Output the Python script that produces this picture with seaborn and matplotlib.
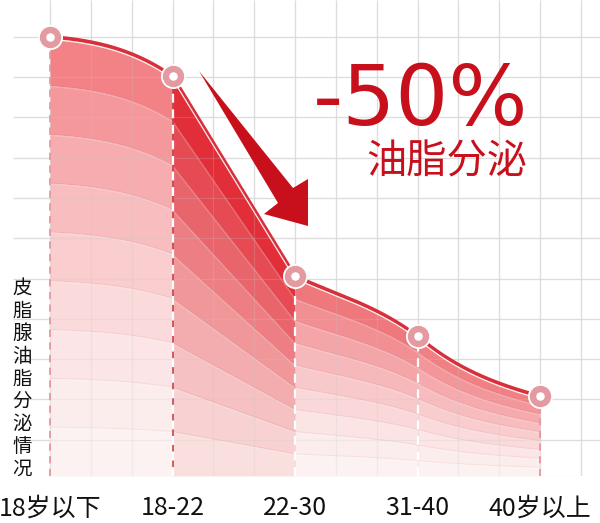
import numpy as np
import matplotlib
matplotlib.use("Agg")
import matplotlib.pyplot as plt
import seaborn as sns
from matplotlib.patches import Polygon
from matplotlib.colors import to_rgb

# ---------------- data ----------------
categories = ["18岁以下", "18-22", "22-30", "31-40", "40岁以上"]
oil_level = [10.9, 9.92, 4.96, 3.47, 1.98]
ylabel_text = "皮脂腺油脂分泌情况"
headline = "-50%"
subline = "油脂分泌"

# ---------------- style ----------------
# curve tangents (slope per category step) leaving / entering each point
tan_out = [-0.24, -4.96, -1.37, -2.58, 0.0]
tan_in = [0.0, -2.13, -4.96, -2.28, -0.85]
seg_top = ["#f2777c", "#e01f2b", "#ee6b71", "#f07479"]
seg_bot = ["#fdf3f3", "#fae4e2", "#fdf3f3", "#fdf3f3"]
seg_pow = [1.7, 1.35, 1.7, 1.7]
RED = "#c8101c"
N_BANDS = 9

sns.set_theme(style="white")
plt.rcParams["font.family"] = ["Noto Sans CJK SC", "DejaVu Sans"]

W, H = 600, 523
BASE_PX = 476
X0_PX, DX_PX = 50, 122.5
DY_PX = 40.3

fig = plt.figure(figsize=(W / 100, H / 100), dpi=100)
ax = fig.add_axes([0, (H - BASE_PX) / H, 1, BASE_PX / H])
ax.set_xlim(-X0_PX / DX_PX, (W - X0_PX) / DX_PX)
ax.set_ylim(0, BASE_PX / DY_PX)
for s in ax.spines.values():
    s.set_visible(False)


def px2d(px, py):
    return (px - X0_PX) / DX_PX, (BASE_PX - py) / DY_PX


xs = np.arange(len(categories), dtype=float)
ys = np.array(oil_level)


def hermite_segments(xv, yv, m_out, m_in, n=120):
    segs = []
    for i in range(len(xv) - 1):
        t = np.linspace(0, 1, n)
        h = xv[i + 1] - xv[i]
        h00 = 2 * t**3 - 3 * t**2 + 1
        h10 = t**3 - 2 * t**2 + t
        h01 = -2 * t**3 + 3 * t**2
        h11 = t**3 - t**2
        y = h00 * yv[i] + h10 * h * m_out[i] + h01 * yv[i + 1] + h11 * h * m_in[i + 1]
        segs.append((xv[i] + t * h, y))
    return segs


segs = hermite_segments(xs, ys, tan_out, tan_in)

# ---------- grid (under) ----------
ytop = BASE_PX / DY_PX
grid_x = np.arange(0, 14) / 3.0
grid_y = ys[0] - np.arange(0, 11)
xl_grid = px2d(13, 0)[0]
xr_grid = (W - X0_PX) / DX_PX
ax.vlines(grid_x, 0, ytop, color="#e4e4e4", lw=0.9, zorder=0)
ax.hlines(grid_y, xl_grid, xr_grid, color="#e4e4e4", lw=0.9, zorder=0)
ax.hlines([0.0], 0, grid_x[-1], color="#ececec", lw=0.9, zorder=0)

# ---------- layered fills ----------
for i, (sx, sy) in enumerate(segs):
    top = np.array(to_rgb(seg_top[i]))
    bot = np.array(to_rgb(seg_bot[i]))
    for j in range(N_BANDS):
        lo, hi = j / N_BANDS, (j + 1) / N_BANDS
        t = ((j + 0.5) / N_BANDS) ** seg_pow[i]
        c = bot + (top - bot) * t
        ax.fill_between(sx, sy * lo, sy * hi, color=c, lw=0, zorder=1)
        if j > 0:
            ax.plot(sx, sy * lo, color=top * 0.8, alpha=0.08 + 0.07 * lo, lw=0.8, zorder=1.2)
            ax.plot(sx, sy * lo - 0.03, color="white", alpha=0.25, lw=0.6, zorder=1.2)

# ---------- grid overlay ----------
ax.vlines(grid_x, 0, ytop, color="#c8c8c8", alpha=0.22, lw=0.9, zorder=2)
ax.hlines(grid_y, xl_grid, xr_grid, color="#c8c8c8", alpha=0.22, lw=0.9, zorder=2)

# ---------- dashed drop lines ----------
ax.vlines([xs[1]], 0, ys[1], color="#c23a45", lw=1.1, zorder=2.6)
ax.vlines(xs[1:4], 0, ys[1:4], color="white", lw=1.6, linestyles=(0, (4, 3)), zorder=2.7)
ax.vlines([xs[0], xs[4]], 0, [ys[0], ys[4]], color="#e8979c", lw=1.3,
          linestyles=(0, (4, 3)), zorder=2.7)

# ---------- main line ----------
cx = np.concatenate([s[0] for s in segs])
cy = np.concatenate([s[1] for s in segs])
sns.lineplot(x=cx, y=cy, sort=False, estimator=None, color="#d8303b", lw=2.6, ax=ax, zorder=4)
ax.plot(cx, cy - 0.065, color="white", lw=0.9, alpha=0.9, zorder=4.5)

# ---------- markers ----------
ax.plot(xs, ys, "o", ms=17, color="white", zorder=5)
ax.plot(xs, ys, "o", ms=10.8, mfc="white", mec="#e39aa0", mew=4.6, zorder=6)

# ---------- arrow ----------
arrow_px = [(199, 71), (293, 188), (308, 179), (308, 226), (264, 214), (278, 203)]
ax.add_patch(Polygon([px2d(*p) for p in arrow_px], closed=True, color=RED, lw=0, zorder=7))

# ---------- texts ----------
hx, hy = px2d(528, 125)
ax.text(hx, hy, headline, color=RED, fontsize=60, ha="right", va="baseline",
        family=["DejaVu Sans"], zorder=8)
sx_, sy_ = px2d(527, 162)
ax.text(sx_, sy_, subline, color=RED, fontsize=29, ha="right", va="center", zorder=8)

lx, ly = px2d(22, 379)
ax.text(lx, ly, "\n".join(ylabel_text), color="#111111", fontsize=14, ha="center",
        va="center", linespacing=1.1, zorder=8)

ax.set_xticks(xs)
ax.set_xticklabels(categories, fontsize=18, color="#111111")
ax.set_yticks([])
ax.tick_params(axis="x", length=0, pad=14)
ax.set_xlabel("")
ax.set_ylabel("")

fig.savefig("out.png", dpi=100)
